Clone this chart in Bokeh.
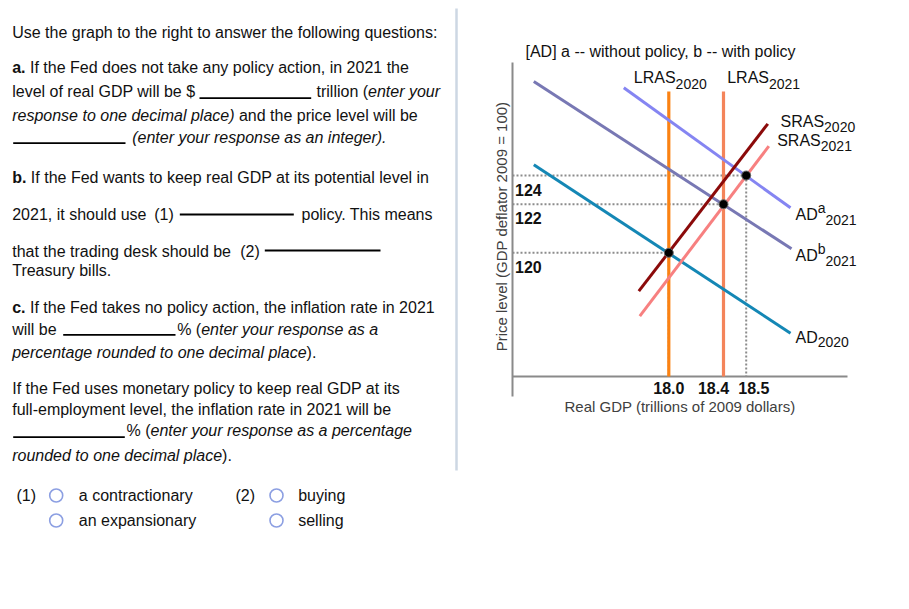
import math
from bokeh.plotting import figure
from bokeh.models import Range1d, ColumnDataSource
from bokeh.layouts import row
from bokeh.embed import file_html
from bokeh.resources import INLINE
from bokeh.core.properties import value

FONT = "Liberation Sans"
INK = "#111111"

# ---------------- chart data (schematic diagram units) ----------------
gdp_ticks = ["18.0", "18.4", "18.5"]
gdp_pos = [156.3, 211.0, 233.7]
price_ticks = ["120", "122", "124"]
price_pos = [123.7, 172.3, 201.0]

# equilibria: (18.0, 120) in 2020, (18.4, 122) with policy, (18.5, 124) without policy
eq_x = gdp_pos
eq_y = price_pos

ad2020_x = [21.3, 278.0]
ad2020_y = [211.7, 43.3]
ada2021_x = [111.3, 278.0]
ada2021_y = [288.7, 168.7]
adb2021_x = [21.3, 279.0]
adb2021_y = [295.0, 127.7]
sras2020_x = [126.3, 255.3]
sras2020_y = [85.3, 252.7]
sras2021_x = [127.3, 256.3]
sras2021_y = [60.3, 230.3]
lras_x = [gdp_pos[0], gdp_pos[1]]
lras_top = 285.0
x_axis_end = 335.0
y_axis_top = 314.0
y_axis_bottom = -20.0

# ---------------- text metrics (Arial / Liberation Sans) ----------------
REG = {' ': 278, '!': 278, '"': 355, '#': 556, '$': 556, '%': 889, '&': 667, "'": 191,
       '(': 333, ')': 333, '*': 389, '+': 584, ',': 278, '-': 333, '.': 278, '/': 278,
       ':': 278, ';': 278, '=': 584, '?': 556, '[': 278, ']': 278,
       'A': 667, 'B': 667, 'C': 722, 'D': 722, 'E': 667, 'F': 611, 'G': 778, 'H': 722,
       'I': 278, 'J': 500, 'K': 667, 'L': 556, 'M': 833, 'N': 722, 'O': 778, 'P': 667,
       'Q': 778, 'R': 722, 'S': 667, 'T': 611, 'U': 722, 'V': 667, 'W': 944, 'X': 667,
       'Y': 667, 'Z': 611,
       'a': 556, 'b': 556, 'c': 500, 'd': 556, 'e': 556, 'f': 278, 'g': 556, 'h': 556,
       'i': 222, 'j': 222, 'k': 500, 'l': 222, 'm': 833, 'n': 556, 'o': 556, 'p': 556,
       'q': 556, 'r': 333, 's': 500, 't': 278, 'u': 556, 'v': 500, 'w': 722, 'x': 500,
       'y': 500, 'z': 500}
BOLD = {'a': 556, 'b': 611, 'c': 556, '.': 278}


def tw(s, size=16, bold=False):
    tot = 0
    for ch in s:
        if bold and ch in BOLD:
            tot += BOLD[ch]
        elif ch.isdigit():
            tot += 556
        else:
            tot += REG.get(ch, 556)
    return tot * size / 1000.0


# ---------------- left panel (question text) ----------------
LINES = [
    (32.0, [(11.7, "Use the graph to the right to answer the following questions:", "normal")]),
    (66.7, [(11.7, "a.", "bold"), (None, " If the Fed does not take any policy action, in 2021 the", "normal")]),
    (90.7, [(11.7, "level of real GDP will be $", "normal"), (316.0, "trillion (", "normal"), (None, "enter your", "italic")]),
    (115.0, [(11.7, "response to one decimal place)", "italic"), (None, " and the price level will be", "normal")]),
    (136.7, [(131.7, "(enter your response as an integer).", "italic")]),
    (176.7, [(11.7, "b.", "bold"), (None, " If the Fed wants to keep real GDP at its potential level in", "normal")]),
    (214.0, [(11.7, "2021, it should use", "normal"), (153.7, "(1)", "normal"), (301.0, "policy. This means", "normal")]),
    (250.7, [(11.7, "that the trading desk should be", "normal"), (239.7, "(2)", "normal")]),
    (270.0, [(11.7, "Treasury bills.", "normal")]),
    (306.7, [(11.7, "c.", "bold"), (None, " If the Fed takes no policy action, the inflation rate in 2021", "normal")]),
    (329.3, [(11.7, "will be", "normal"), (176.7, "% (", "normal"), (None, "enter your response as a", "italic")]),
    (351.7, [(11.7, "percentage rounded to one decimal place", "italic"), (None, ").", "normal")]),
    (388.3, [(11.7, "If the Fed uses monetary policy to keep real GDP at its", "normal")]),
    (409.0, [(11.7, "full-employment level, the inflation rate in 2021 will be", "normal")]),
    (430.0, [(126.0, "% (", "normal"), (None, "enter your response as a percentage", "italic")]),
    (455.0, [(11.7, "rounded to one decimal place", "italic"), (None, ").", "normal")]),
]
BLANKS = [(199.0, 310.7, 97.7), (12.7, 125.0, 142.7), (179.3, 293.3, 214.0),
          (264.3, 380.0, 250.0), (62.7, 175.0, 334.3), (12.7, 124.3, 436.7)]

choice_rows = [495.0, 520.0]
choices_1 = ["a contractionary", "an expansionary"]
choices_2 = ["buying", "selling"]

tx, ty, tt, ts = [], [], [], []
for y, runs in LINES:
    cx = 0
    for x0, text, style in runs:
        if x0 is not None:
            cx = x0
        bold = style == "bold"
        stripped = text.lstrip(" ")
        cx += tw(text[:len(text) - len(stripped)], 16, bold)
        tx.append(cx); ty.append(y); tt.append(stripped); ts.append(style)
        cx += tw(stripped, 16, bold)

PAGE_H = 605
left = figure(width=460, height=PAGE_H, x_range=Range1d(0, 460), y_range=Range1d(PAGE_H, 0),
              output_backend="svg", toolbar_location=None, title=None,
              x_axis_location=None, y_axis_location=None, min_border=0)
left.grid.visible = False
left.outline_line_color = None

left.text(x="x", y="y", text="text", text_font_style="style",
          source=ColumnDataSource(dict(x=tx, y=ty, text=tt, style=ts)),
          text_font=value(FONT), text_font_size="16px", text_color=INK,
          text_baseline="alphabetic", text_align="left")

left.segment(x0=[b[0] for b in BLANKS], x1=[b[1] for b in BLANKS],
             y0=[b[2] for b in BLANKS], y1=[b[2] for b in BLANKS],
             line_color="#000000", line_width=1.8)

# separator
left.segment(x0=[456], x1=[456], y0=[8], y1=[470], line_color="#cdd7e3", line_width=2.5)

# radio choices
left.text(x=[16.0, 235.0], y=[choice_rows[0]] * 2, text=["(1)", "(2)"], text_font=value(FONT),
          text_font_size="16px", text_color=INK, text_baseline="middle", text_align="left")
left.text(x=[78.3, 78.3], y=choice_rows, text=choices_1, text_font=value(FONT), text_font_size="16px",
          text_color=INK, text_baseline="middle", text_align="left")
left.text(x=[297.7, 297.7], y=choice_rows, text=choices_2, text_font=value(FONT), text_font_size="16px",
          text_color=INK, text_baseline="middle", text_align="left")
left.scatter(x=[55.7, 55.7, 276.0, 276.0], y=choice_rows + choice_rows, marker="circle", size=13,
             fill_color="white", line_color="#8c9fe2", line_width=1.6)

# ---------------- chart ----------------
p = figure(width=445, height=PAGE_H, x_range=Range1d(-52, 393), y_range=Range1d(376 - PAGE_H, 376),
           output_backend="svg", toolbar_location=None, title=None,
           x_axis_location=None, y_axis_location=None, min_border=0)
p.grid.visible = False
p.outline_line_color = None

# axes lines
AXIS = "#8a8a8a"
p.segment(x0=[0], x1=[x_axis_end], y0=[0], y1=[0], line_color=AXIS, line_width=2)
p.segment(x0=[0], x1=[0], y0=[y_axis_bottom], y1=[y_axis_top], line_color=AXIS, line_width=2)

# axis titles and chart title
p.text(x=[167.5], y=[-30.0], text=["Real GDP (trillions of 2009 dollars)"], text_font=value(FONT),
       text_font_size="15px", text_color="#404040", text_align="center", text_baseline="middle")
p.text(x=[-11.0], y=[150.0], text=["Price level (GDP deflator 2009 = 100)"], angle=math.pi / 2,
       text_font=value(FONT), text_font_size="15px", text_color="#404040",
       text_align="center", text_baseline="middle")
p.text(x=[13.0], y=[325.3], text=["[AD] a -- without policy, b -- with policy"], text_font=value(FONT),
       text_font_size="16px", text_color=INK, text_align="left", text_baseline="middle")

# dotted guides
p.segment(x0=[0, 0, 0], x1=eq_x, y0=eq_y, y1=eq_y, line_color="#8c8c8c", line_width=2, line_dash="2 2")
p.segment(x0=eq_x, x1=eq_x, y0=eq_y, y1=[0, 0, 0], line_color="#8c8c8c", line_width=2, line_dash="2 2")

# LRAS
p.segment(x0=[lras_x[0]], x1=[lras_x[0]], y0=[0], y1=[lras_top], line_color="#fb8213", line_width=3.2)
p.segment(x0=[lras_x[1]], x1=[lras_x[1]], y0=[0], y1=[lras_top], line_color="#f4845a", line_width=3.2)

# AD / SRAS curves
p.line(adb2021_x, adb2021_y, line_color="#7878b4", line_width=3)
p.line(ada2021_x, ada2021_y, line_color="#8585f2", line_width=3)
p.line(ad2020_x, ad2020_y, line_color="#1487b5", line_width=3)
p.line(sras2020_x, sras2020_y, line_color="#8b0a0a", line_width=3)
p.line(sras2021_x, sras2021_y, line_color="#f78080", line_width=3)

# equilibrium points
p.scatter(eq_x, eq_y, marker="circle", size=9, fill_color="black", line_color="#666666", line_width=1)

# tick labels
tick_nudge = [0, -10, 7.6]
p.text(x=[g + n for g, n in zip(gdp_pos, tick_nudge)], y=[-11.7] * 3, text=gdp_ticks,
       text_font=value(FONT), text_font_size="16px", text_font_style="bold", text_color=INK,
       text_align="center", text_baseline="middle")
p.text(x=[2.5] * 3, y=[v - 14 for v in price_pos], text=price_ticks,
       text_font=value(FONT), text_font_size="16px", text_font_style="bold", text_color=INK,
       text_align="left", text_baseline="middle")

# curve labels with sub/superscripts
lx, ly, lt, ls = [], [], [], []


def add_label(x, y, parts):
    cx = x
    for text, size, dy in parts:
        lx.append(cx); ly.append(y + dy); lt.append(text); ls.append(f"{size}px")
        cx += tw(text, size)


add_label(121.3, 299.0, [("LRAS", 16, 0), ("2020", 14, -6)])
add_label(214.7, 299.0, [("LRAS", 16, 0), ("2021", 14, -6)])
add_label(268.0, 255.0, [("SRAS", 16, 0), ("2020", 14, -5.7)])
add_label(264.7, 236.0, [("SRAS", 16, 0), ("2021", 14, -5.7)])
add_label(283.0, 162.0, [("AD", 16, 0), ("a", 14, 6.5), ("2021", 14, -5)])
add_label(283.0, 121.0, [("AD", 16, 0), ("b", 14, 7), ("2021", 14, -5)])
add_label(283.0, 39.3, [("AD", 16, 0), ("2020", 14, -4.3)])

p.text(x="x", y="y", text="text", text_font_size="size",
       source=ColumnDataSource(dict(x=lx, y=ly, text=lt, size=ls)),
       text_font=value(FONT), text_color=INK, text_align="left", text_baseline="alphabetic")

layout = row(left, p)
open("out.html", "w").write(file_html(layout, INLINE))
